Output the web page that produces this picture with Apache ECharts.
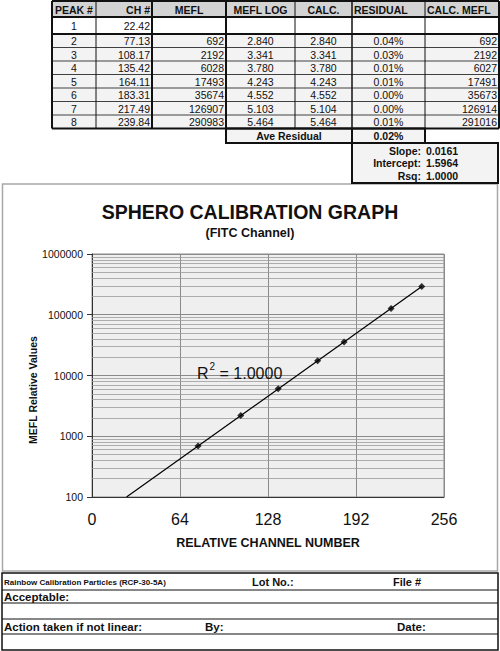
<!DOCTYPE html>
<html>
<head>
<meta charset="utf-8">
<script src="https://cdn.jsdelivr.net/npm/echarts@6/dist/echarts.min.js"></script>
<style>
html,body{margin:0;padding:0;background:#fff;}
#c{width:500px;height:651px;}
</style>
</head>
<body>
<div id="c"></div>
<script>
// ---- data ----
const headers = ['PEAK #', 'CH #', 'MEFL', 'MEFL LOG', 'CALC.', 'RESIDUAL', 'CALC. MEFL'];
const peaks = ['1', '2', '3', '4', '5', '6', '7', '8'];
const channels = [22.42, 77.13, 108.17, 135.42, 164.11, 183.31, 217.49, 239.84];
const mefl = [null, 692, 2192, 6028, 17493, 35674, 126907, 290983];
const meflLog = ['', '2.840', '3.341', '3.780', '4.243', '4.552', '5.103', '5.464'];
const calcLog = ['', '2.840', '3.341', '3.780', '4.243', '4.552', '5.104', '5.464'];
const residual = ['', '0.04%', '0.03%', '0.01%', '0.01%', '0.00%', '0.00%', '0.01%'];
const calcMefl = [null, 692, 2192, 6027, 17491, 35673, 126914, 291016];
const aveResidualLabel = 'Ave Residual';
const aveResidual = '0.02%';
const fitLabels = ['Slope:', 'Intercept:', 'Rsq:'];
const fitValues = ['0.0161', '1.5964', '1.0000'];
const xTicks = [0, 64, 128, 192, 256];
const yTicks = [100, 1000, 10000, 100000, 1000000];
const trendline = [[25.1, 100], [239.84, 291016]];
const r2Value = '1.0000';
const chartTitle = 'SPHERO CALIBRATION GRAPH';
const chartSubtitle = '(FITC Channel)';
const xName = 'RELATIVE CHANNEL NUMBER';
const yName = 'MEFL Relative Values';

// ---- helpers ----
const FF = "'Liberation Sans', Arial, sans-serif";
const TXT = '#111';
function txt(x, y, text, size, weight, align) {
  return { type: 'text', x: x, y: y, silent: true, z: 10,
    style: { text: text, fill: TXT, font: (weight || 'normal') + ' ' + size + 'px ' + FF,
      textAlign: align || 'left', textVerticalAlign: 'middle', align: align || 'left', verticalAlign: 'middle' } };
}
function rect(x, y, w, h, fill, stroke, lw) {
  return { type: 'rect', silent: true, z: 5, shape: { x: x, y: y, width: w, height: h },
    style: { fill: fill || 'none', stroke: stroke || 'none', lineWidth: lw || 0 } };
}
function line(x1, y1, x2, y2, lw, color) {
  return { type: 'line', silent: true, z: 6, shape: { x1: x1, y1: y1, x2: x2, y2: y2 },
    style: { stroke: color || '#111', lineWidth: lw || 1 } };
}

// ---- table layout ----
const colX = [52, 96, 152, 226, 295, 352, 425, 499];
const rowY = [1, 17, 34, 47.5, 61, 74.5, 88, 101.5, 115, 128.5];
const colW = [1, 1, 2, 2, 1, 1.5, 1, 2];
const els = [];
// chart frame
els.push(rect(2.5, 184, 495, 387, 'none', '#a8a8a8', 1.5));
// backgrounds
els.push(rect(colX[0], rowY[0], colX[7] - colX[0], rowY[1] - rowY[0], '#d3d3d3'));
els.push(rect(colX[0], rowY[1], colX[7] - colX[0], rowY[2] - rowY[1], '#ffffff'));
els.push(rect(colX[0], rowY[2], colX[7] - colX[0], rowY[9] - rowY[2], '#f3f3f3'));
// horizontal lines
for (let i = 0; i < rowY.length; i++) {
  const lw = (i === 0 || i === 1 || i === 2 || i === rowY.length - 1) ? 2 : 0.8;
  els.push(line(colX[0], rowY[i], colX[7], rowY[i], lw));
}
// vertical lines
for (let j = 0; j < colX.length; j++) {
  els.push(line(colX[j], rowY[0], colX[j], rowY[9], (j === 0 ? 2 : colW[j])));
}
// header texts
const hAlign = ['center', 'right', 'center', 'center', 'center', 'left', 'left'];
const cAlign = ['center', 'right', 'right', 'center', 'center', 'center', 'right'];
function colPos(j, align) {
  if (align === 'center') return (colX[j] + colX[j + 1]) / 2;
  if (align === 'right') return colX[j + 1] - 2;
  return colX[j] + 2;
}
headers.forEach((h, j) => {
  els.push(txt(colPos(j, hAlign[j]), (rowY[0] + rowY[1]) / 2 + 0.5, h, 10.5, 'bold', hAlign[j]));
});
// body
for (let i = 0; i < peaks.length; i++) {
  const yc = (rowY[i + 1] + rowY[i + 2]) / 2 + 0.5;
  const cells = [peaks[i], channels[i].toFixed(2), mefl[i] == null ? '' : String(mefl[i]),
    meflLog[i], calcLog[i], residual[i], calcMefl[i] == null ? '' : String(calcMefl[i])];
  cells.forEach((c, j) => { if (c) els.push(txt(colPos(j, cAlign[j]), yc, c, 10.5, 'normal', cAlign[j])); });
}
// ave residual box
els.push(rect(226, 128.5, 199, 14.5, '#f3f3f3', '#111', 2));
els.push(line(352, 128.5, 352, 143, 2));
els.push(txt(289, 136.2, aveResidualLabel, 10.5, 'bold', 'center'));
els.push(txt(388.5, 136.2, aveResidual, 10.5, 'bold', 'center'));
// fit stats box
els.push(rect(352, 143, 146, 40, '#f3f3f3', '#111', 2));
fitLabels.forEach((l, i) => {
  const yc = 150.5 + i * 12.5;
  els.push(txt(421, yc, l, 10.5, 'bold', 'right'));
  els.push(txt(426, yc, fitValues[i], 10.5, 'bold', 'left'));
});
// y axis title
els.push({ type: 'text', x: 32.5, y: 390, rotation: Math.PI / 2, silent: true, z: 10,
  style: { text: yName, fill: TXT, font: 'bold 10.5px ' + FF, textAlign: 'center', textVerticalAlign: 'middle', align: 'center', verticalAlign: 'middle' } });
// R^2 label
els.push({ type: 'text', x: 197, y: 371, silent: true, z: 10,
  style: { text: '{a|R}{b|2}{a| = ' + r2Value + '}', fill: TXT, font: '16px ' + FF,
    textAlign: 'left', textVerticalAlign: 'middle', align: 'left', verticalAlign: 'middle',
    rich: { a: { fontSize: 16, fontFamily: FF, lineHeight: 20, fill: TXT, verticalAlign: 'bottom' },
            b: { fontSize: 10, fontFamily: FF, lineHeight: 20, fill: TXT, verticalAlign: 'top', padding: [0, 0, 0, 1] } } } });
// footer form
els.push(rect(2, 573, 496, 77, '#fff', '#111', 1.5));
[590, 603, 619, 634].forEach(y => els.push(line(2, y, 498, y, 1.2)));
els.push(txt(4, 582, 'Rainbow Calibration Particles (RCP-30-5A)', 8, 'bold', 'left'));
els.push(txt(252, 581.5, 'Lot No.:', 11, 'bold', 'left'));
els.push(txt(393, 581.5, 'File #', 11, 'bold', 'left'));
els.push(txt(4, 596.5, 'Acceptable:', 11.5, 'bold', 'left'));
els.push(txt(4, 626.5, 'Action taken if not linear:', 11.5, 'bold', 'left'));
els.push(txt(205, 626.5, 'By:', 11.5, 'bold', 'left'));
els.push(txt(397, 626.5, 'Date:', 11.5, 'bold', 'left'));

// minor log gridlines (2..9 in each decade)
const minorLines = [];
for (let d = 0; d < yTicks.length - 1; d++) {
  for (let m = 2; m <= 9; m++) minorLines.push({ yAxis: yTicks[d] * m });
}

const points = [];
channels.forEach((c, i) => { if (mefl[i] != null) points.push([c, mefl[i]]); });

const chart = echarts.init(document.getElementById('c'), null, { renderer: 'svg' });
chart.setOption({
  backgroundColor: '#fff',
  animation: false,
  title: [
    { text: chartTitle, left: 'center', top: 200, padding: 0,
      textStyle: { fontFamily: FF, fontWeight: 'bold', fontSize: 19.5, color: TXT, lineHeight: 24 } },
    { text: chartSubtitle, left: 'center', top: 226, padding: 0,
      textStyle: { fontFamily: FF, fontWeight: 'bold', fontSize: 12.5, color: TXT, lineHeight: 14 } }
  ],
  grid: { left: 92, right: 56, top: 254, bottom: 154, show: true, backgroundColor: '#efefef',
    borderColor: '#8a8a8a', borderWidth: 1, outerBoundsMode: 'none', containLabel: false },
  xAxis: {
    type: 'value', min: 0, max: 256, interval: 64,
    name: xName, nameLocation: 'middle', nameGap: 39,
    nameTextStyle: { fontFamily: FF, fontWeight: 'bold', fontSize: 12.5, color: TXT },
    axisLine: { show: true, lineStyle: { color: '#333', width: 1 } },
    axisTick: { show: false },
    axisLabel: { fontFamily: FF, fontSize: 16, color: TXT, margin: 14,
      formatter: v => { const i = xTicks.indexOf(Math.round(v)); return i >= 0 ? String(xTicks[i]) : ''; } },
    splitLine: { show: true, lineStyle: { color: '#8a8a8a', width: 1 } }
  },
  yAxis: {
    type: 'log', logBase: 10, min: yTicks[0], max: yTicks[yTicks.length - 1], splitNumber: 4,
    axisLine: { show: true, lineStyle: { color: '#333', width: 1 } },
    axisTick: { show: true, length: 5, lineStyle: { color: '#333' } },
    axisLabel: { fontFamily: FF, fontSize: 10.5, color: TXT, margin: 9,
      formatter: v => { const r = Math.round(v); const i = yTicks.indexOf(r); return i >= 0 ? String(yTicks[i]) : ''; } },
    splitLine: { show: true, lineStyle: { color: '#8a8a8a', width: 1 } }
  },
  graphic: { elements: els },
  series: [
    { type: 'line', data: trendline, symbol: 'none', clip: true, silent: true,
      lineStyle: { color: '#000', width: 1.2 }, z: 3,
      markLine: { silent: true, symbol: 'none', label: { show: false }, animation: false,
        lineStyle: { color: '#9a9a9a', width: 0.8, type: 'solid' }, data: minorLines, z: 1 } },
    { type: 'scatter', data: points, symbol: 'diamond', symbolSize: 7,
      itemStyle: { color: '#000' }, z: 4, silent: true }
  ]
});
</script>
</body>
</html>
